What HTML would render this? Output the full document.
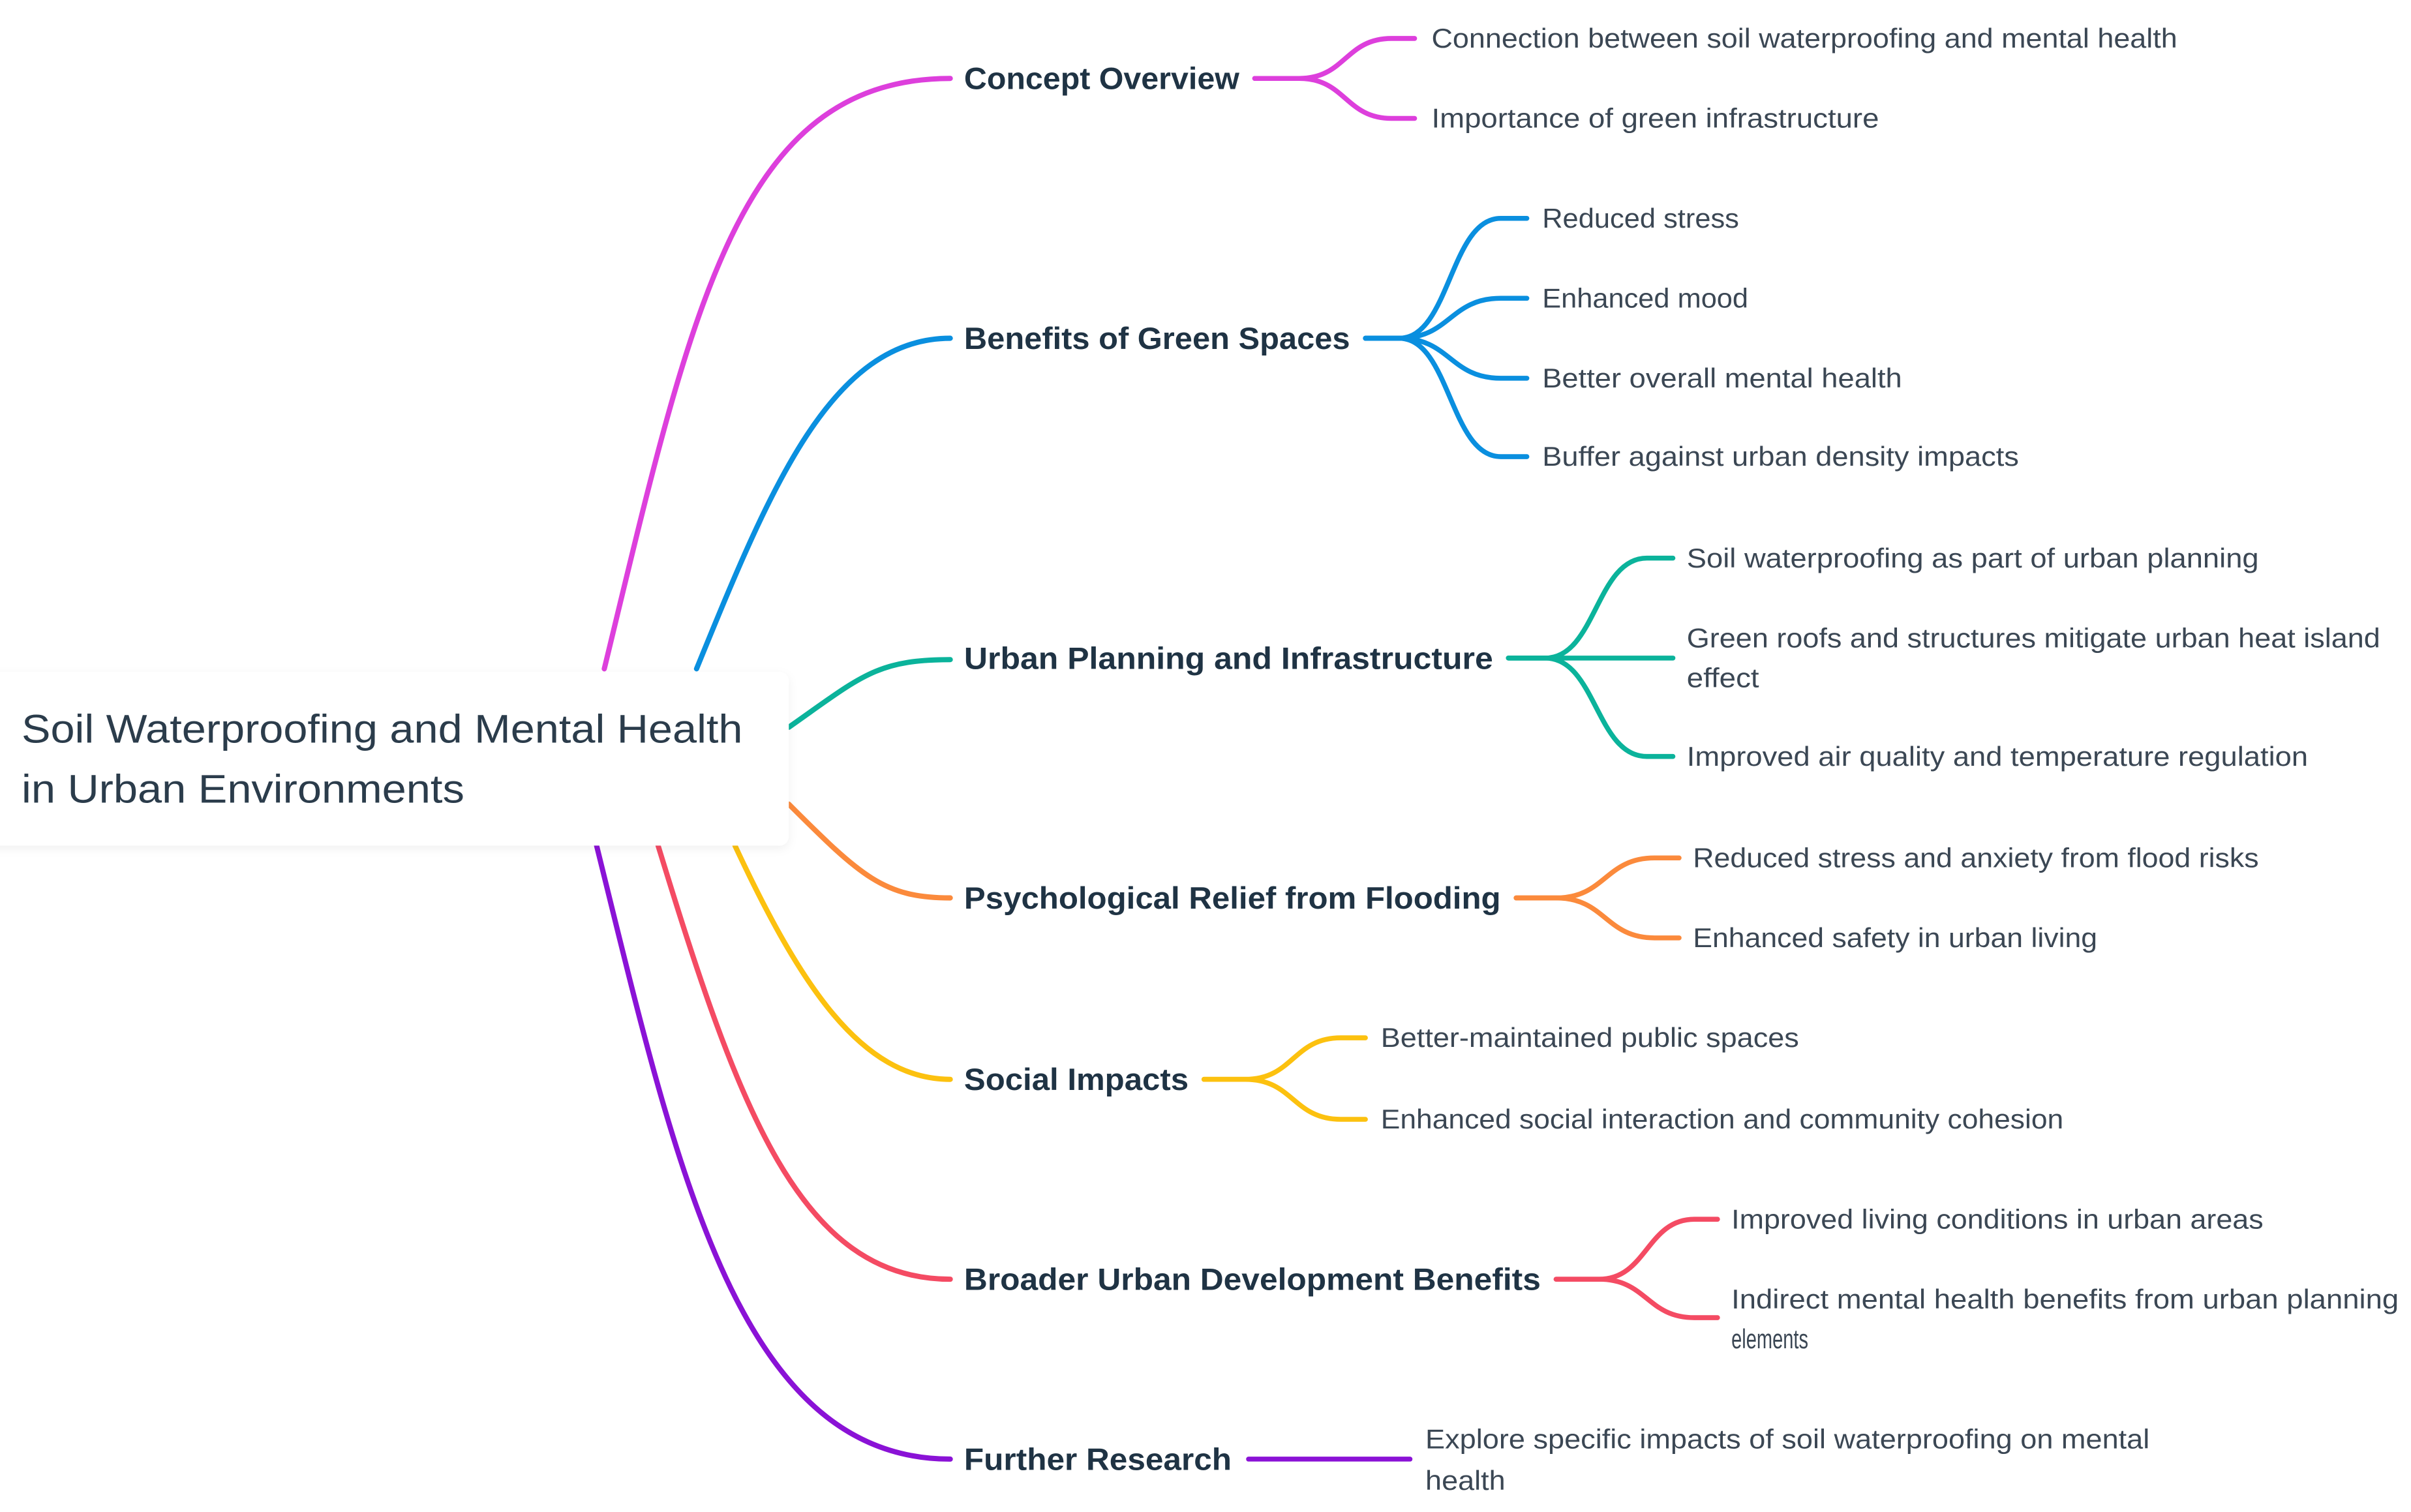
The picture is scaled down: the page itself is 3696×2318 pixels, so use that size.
<!DOCTYPE html>
<html><head><meta charset="utf-8"><style>
html,body{margin:0;padding:0;background:#fff;}
svg{display:block;}
text{font-family:"Liberation Sans",sans-serif;}
.c{font-size:17.5px;fill:#3b4754;}
.b{font-size:20px;font-weight:bold;fill:#1f3344;}
path{fill:none;stroke-linecap:round;}
.m{stroke-width:3.4;}
.k{stroke-width:3.2;}
</style></head><body>
<svg width="3696" height="2318" viewBox="0 0 1568 983.4" xmlns="http://www.w3.org/2000/svg">
<defs><filter id="sh" x="-5%" y="-10%" width="110%" height="125%"><feDropShadow dx="0" dy="2" stdDeviation="3" flood-color="#000" flood-opacity="0.06"/></filter></defs>
<!-- main branches -->
<path class="m" stroke="#dd3fdc" d="M393,435 C450,200 480,51 618,51"/>
<path class="m" stroke="#0a8fdf" d="M453,435 C500,320 540,220 618,220"/>
<path class="m" stroke="#0bb39b" d="M513,473 C560,440 570,429 618,429"/>
<path class="m" stroke="#fb8a3c" d="M513,523 C560,570 575,584 618,584"/>
<path class="m" stroke="#fcc10f" d="M478,550 C520,640 560,702 618,702"/>
<path class="m" stroke="#f44b63" d="M428,550 C480,720 520,832 618,832"/>
<path class="m" stroke="#8a12d6" d="M388,550 C440,760 480,949 618,949"/>
<!-- root box -->
<rect x="-10" y="437" width="523" height="113" rx="6" fill="#fff" filter="url(#sh)"/>
<text x="14" y="483" style="font-size:26px;fill:#2b3c4b" textLength="469" lengthAdjust="spacingAndGlyphs">Soil Waterproofing and Mental Health</text>
<text x="14" y="522" style="font-size:26px;fill:#2b3c4b" textLength="288" lengthAdjust="spacingAndGlyphs">in Urban Environments</text>
<!-- labels -->
<text class="b" x="627" y="58" textLength="179" lengthAdjust="spacingAndGlyphs">Concept Overview</text>
<text class="b" x="627" y="227" textLength="251" lengthAdjust="spacingAndGlyphs">Benefits of Green Spaces</text>
<text class="b" x="627" y="435" textLength="344" lengthAdjust="spacingAndGlyphs">Urban Planning and Infrastructure</text>
<text class="b" x="627" y="591" textLength="349" lengthAdjust="spacingAndGlyphs">Psychological Relief from Flooding</text>
<text class="b" x="627" y="709" textLength="146" lengthAdjust="spacingAndGlyphs">Social Impacts</text>
<text class="b" x="627" y="839" textLength="375" lengthAdjust="spacingAndGlyphs">Broader Urban Development Benefits</text>
<text class="b" x="627" y="956" textLength="174" lengthAdjust="spacingAndGlyphs">Further Research</text>
<!-- child connectors -->
<g stroke="#dd3fdc" class="k">
<path d="M816,51 L845,51 C875,51 875,25 905,25 L920,25"/>
<path d="M816,51 L845,51 C875,51 875,77 905,77 L920,77"/>
</g>
<g stroke="#0a8fdf" class="k">
<path d="M888,220 L910,220 C943,220 943,142 976,142 L993,142"/>
<path d="M888,220 L910,220 C943,220 943,194 976,194 L993,194"/>
<path d="M888,220 L910,220 C943,220 943,246 976,246 L993,246"/>
<path d="M888,220 L910,220 C943,220 943,297 976,297 L993,297"/>
</g>
<g stroke="#0bb39b" class="k">
<path d="M981,428 L1005,428 C1038,428 1038,363 1071,363 L1088,363"/>
<path d="M981,428 L1088,428"/>
<path d="M981,428 L1005,428 C1038,428 1038,492 1071,492 L1088,492"/>
</g>
<g stroke="#fb8a3c" class="k">
<path d="M986,584 L1012,584 C1044,584 1044,558 1076,558 L1092,558"/>
<path d="M986,584 L1012,584 C1044,584 1044,610 1076,610 L1092,610"/>
</g>
<g stroke="#fcc10f" class="k">
<path d="M783,702 L810,702 C841,702 841,675 872,675 L888,675"/>
<path d="M783,702 L810,702 C841,702 841,728 872,728 L888,728"/>
</g>
<g stroke="#f44b63" class="k">
<path d="M1012,832 L1040,832 C1071,832 1071,793 1102,793 L1117,793"/>
<path d="M1012,832 L1040,832 C1071,832 1071,857 1102,857 L1117,857"/>
</g>
<path class="k" stroke="#8a12d6" d="M812,949 L917,949"/>
<!-- child text -->
<text class="c" x="931" y="31" textLength="485" lengthAdjust="spacingAndGlyphs">Connection between soil waterproofing and mental health</text>
<text class="c" x="931" y="83" textLength="291" lengthAdjust="spacingAndGlyphs">Importance of green infrastructure</text>
<text class="c" x="1003" y="148" textLength="128" lengthAdjust="spacingAndGlyphs">Reduced stress</text>
<text class="c" x="1003" y="200" textLength="134" lengthAdjust="spacingAndGlyphs">Enhanced mood</text>
<text class="c" x="1003" y="252" textLength="234" lengthAdjust="spacingAndGlyphs">Better overall mental health</text>
<text class="c" x="1003" y="303" textLength="310" lengthAdjust="spacingAndGlyphs">Buffer against urban density impacts</text>
<text class="c" x="1097" y="369" textLength="372" lengthAdjust="spacingAndGlyphs">Soil waterproofing as part of urban planning</text>
<text class="c" x="1097" y="421" textLength="451" lengthAdjust="spacingAndGlyphs">Green roofs and structures mitigate urban heat island</text>
<text class="c" x="1097" y="447" textLength="47" lengthAdjust="spacingAndGlyphs">effect</text>
<text class="c" x="1097" y="498" textLength="404" lengthAdjust="spacingAndGlyphs">Improved air quality and temperature regulation</text>
<text class="c" x="1101" y="564" textLength="368" lengthAdjust="spacingAndGlyphs">Reduced stress and anxiety from flood risks</text>
<text class="c" x="1101" y="616" textLength="263" lengthAdjust="spacingAndGlyphs">Enhanced safety in urban living</text>
<text class="c" x="898" y="681" textLength="272" lengthAdjust="spacingAndGlyphs">Better-maintained public spaces</text>
<text class="c" x="898" y="734" textLength="444" lengthAdjust="spacingAndGlyphs">Enhanced social interaction and community cohesion</text>
<text class="c" x="1126" y="799" textLength="346" lengthAdjust="spacingAndGlyphs">Improved living conditions in urban areas</text>
<text class="c" x="1126" y="851" textLength="434" lengthAdjust="spacingAndGlyphs">Indirect mental health benefits from urban planning</text>
<text class="c" x="1126" y="877" textLength="50" lengthAdjust="spacingAndGlyphs">elements</text>
<text class="c" x="927" y="942" textLength="471" lengthAdjust="spacingAndGlyphs">Explore specific impacts of soil waterproofing on mental</text>
<text class="c" x="927" y="969" textLength="52" lengthAdjust="spacingAndGlyphs">health</text>
</svg>
</body></html>
